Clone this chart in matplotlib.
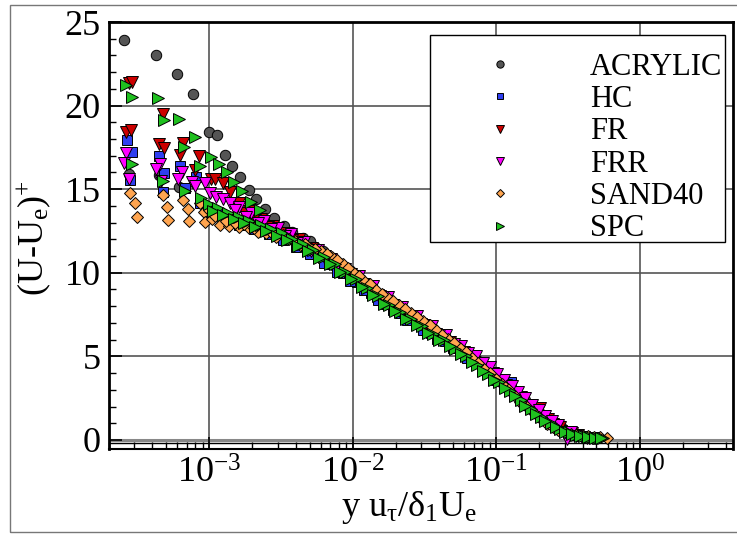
"""Velocity defect profiles (U-Ue)+ vs y u_tau/(delta1 Ue) for six surfaces."""
import numpy as np
import matplotlib
matplotlib.use('Agg')
import matplotlib.pyplot as plt
from matplotlib.ticker import LogLocator, MultipleLocator, FixedLocator, NullFormatter
from matplotlib.patches import Rectangle

plt.rcParams['font.family'] = ['Liberation Serif', 'DejaVu Serif']
plt.rcParams['mathtext.fontset'] = 'custom'
plt.rcParams['mathtext.rm'] = 'Liberation Serif'
plt.rcParams['mathtext.it'] = 'Liberation Serif:italic'

# --- data (near-wall scatter + collapsed outer part) ---
acrylic_x = [2.56e-4, 4.28e-4, 5.96e-4, 7.74e-4, 2.74e-4, 4.49e-4, 6.2e-4,
             1.0e-3, 1.14e-3, 1.29e-3, 1.45e-3, 1.64e-3, 1.89e-3, 2.13e-3, 2.45e-3,
             2.84e-3, 3.3e-3, 3.8e-3, 4.5e-3, 5.5e-3, 7.0e-3, 9.0e-3, 1.15e-2,
             1.5e-2, 2.0e-2, 2.7e-2, 3.6e-2, 4.8e-2, 6.5e-2, 8.5e-2, 0.11, 0.14,
             0.18, 0.23, 0.29, 0.36, 0.44,
             5.0e-3, 6.2e-3, 8.0e-3, 1.03e-2, 1.3e-2, 1.75e-2, 2.3e-2, 3.1e-2,
             4.2e-2, 5.6e-2, 7.5e-2, 9.8e-2, 0.125, 0.16, 0.2, 0.26, 0.32]
acrylic_y = [23.9, 23.05, 21.9, 20.7, 15.9, 15.85, 15.15,
             18.45, 18.25, 17.05, 16.4, 15.75, 14.95, 14.4, 13.8,
             13.3, 12.8, 12.45, 12.1, 11.55, 10.9, 10.2, 9.5,
             8.75, 8.0, 7.25, 6.55, 5.9, 5.1, 4.35, 3.55, 2.8,
             2.0, 1.25, 0.7, 0.35, 0.18,
             11.9, 11.3, 10.6, 9.85, 9.15, 8.4, 7.65, 6.95,
             6.2, 5.5, 4.75, 3.95, 3.15, 2.4, 1.65, 0.95, 0.5]

hc_x = [2.69e-4, 2.89e-4, 2.82e-4, 4.44e-4, 4.86e-4, 4.73e-4, 6.28e-4, 6.73e-4,
        8.07e-4, 8.66e-4, 1.05e-3, 1.2e-3, 1.45e-3, 1.8e-3, 2.3e-3, 2.9e-3,
        3.6e-3, 4.5e-3, 5.6e-3, 7.0e-3, 8.6e-3, 1.07e-2, 1.35e-2, 1.7e-2,
        2.15e-2, 2.75e-2, 3.5e-2, 4.4e-2, 5.6e-2, 7.1e-2, 9.0e-2, 0.112, 0.127,
        0.14, 0.175, 0.215, 0.26, 0.32, 0.39, 0.46,
        1.3e-3, 1.6e-3, 2.05e-3, 2.6e-3, 3.25e-3, 4.0e-3, 5.0e-3, 6.3e-3,
        7.8e-3, 9.6e-3, 1.2e-2, 1.5e-2, 1.9e-2, 2.4e-2, 3.1e-2, 3.9e-2,
        5.0e-2, 6.3e-2, 8.0e-2, 0.1, 0.155, 0.19, 0.235, 0.29, 0.35, 0.42]
hc_y = [17.94, 17.22, 15.55, 16.99, 15.95, 14.86, 16.39, 15.05,
        15.71, 14.17, 13.56, 13.5, 13.2, 13.0, 12.75, 12.4,
        12.0, 11.6, 11.1, 10.55, 10.0, 9.45, 8.8, 8.15,
        7.6, 7.0, 6.4, 5.9, 5.3, 4.7, 4.05, 3.5, 3.45,
        2.85, 2.1, 1.45, 0.95, 0.5, 0.25, 0.12,
        13.1, 12.85, 12.6, 12.3, 11.95, 11.55, 11.15, 10.6,
        10.05, 9.5, 8.95, 8.35, 7.75, 7.2, 6.6, 6.05,
        5.5, 4.9, 4.25, 3.6, 2.35, 1.7, 1.1, 0.6, 0.3, 0.15]

fr_x = [2.77e-4, 2.89e-4, 4.73e-4, 2.63e-4, 2.86e-4, 4.44e-4, 4.81e-4, 6.56e-4,
        6.28e-4, 8.5e-4, 7.98e-4, 1.03e-3, 1.09e-3, 1.24e-3, 1.4e-3, 1.6e-3,
        1.9e-3, 2.3e-3, 2.8e-3, 3.4e-3, 4.2e-3, 5.2e-3, 6.4e-3, 7.9e-3, 9.7e-3,
        1.2e-2, 1.5e-2, 1.9e-2, 2.4e-2, 3.0e-2, 3.8e-2, 4.8e-2, 6.0e-2, 7.6e-2,
        9.5e-2, 0.118, 0.15, 0.185, 0.203, 0.23, 0.28, 0.34, 0.41, 0.48,
        1.5e-3, 1.75e-3, 2.1e-3, 2.55e-3, 3.1e-3, 3.8e-3, 4.7e-3, 5.8e-3,
        7.1e-3, 8.8e-3, 1.08e-2, 1.35e-2, 1.7e-2, 2.15e-2, 2.7e-2, 3.4e-2,
        4.3e-2, 5.4e-2, 6.8e-2, 8.5e-2, 0.107, 0.133, 0.167, 0.25, 0.31, 0.37]
fr_y = [21.37, 21.4, 19.5, 18.45, 18.54, 17.7, 17.45, 17.74,
        17.05, 16.99, 16.15, 15.6, 15.59, 15.39, 14.86, 14.2,
        13.7, 13.2, 12.8, 12.4, 12.0, 11.5, 11.0, 10.45, 9.9,
        9.3, 8.7, 8.05, 7.5, 6.95, 6.35, 5.85, 5.25, 4.6,
        4.0, 3.3, 2.55, 1.9, 1.9, 1.25, 0.8, 0.4, 0.2, 0.12,
        13.9, 13.55, 13.15, 12.75, 12.35, 11.95, 11.5, 11.0,
        10.55, 10.0, 9.45, 8.85, 8.25, 7.65, 7.1, 6.5,
        5.95, 5.4, 4.8, 4.15, 3.5, 2.8, 2.1, 0.95, 0.5, 0.28]

frr_x = [2.63e-4, 2.55e-4, 2.77e-4, 4.55e-4, 4.25e-4, 4.6e-4, 6.5e-4, 6.05e-4,
         7.6e-4, 7.9e-4, 9.4e-4, 1.02e-3, 1.12e-3, 1.25e-3, 1.4e-3, 1.6e-3,
         1.95e-3, 2.4e-3, 3.0e-3, 3.7e-3, 4.6e-3, 5.7e-3, 7.1e-3, 8.8e-3,
         1.1e-2, 1.38e-2, 1.75e-2, 2.2e-2, 2.8e-2, 3.55e-2, 4.5e-2, 5.7e-2,
         7.2e-2, 9.1e-2, 0.113, 0.142, 0.178, 0.22, 0.27, 0.31, 0.33, 0.4, 0.47,
         1.5e-3, 1.8e-3, 2.2e-3, 2.7e-3, 3.35e-3, 4.1e-3, 5.1e-3, 6.4e-3,
         7.9e-3, 9.8e-3, 1.24e-2, 1.55e-2, 1.95e-2, 2.5e-2, 3.15e-2, 4.0e-2,
         5.1e-2, 6.4e-2, 8.1e-2, 0.102, 0.128, 0.16, 0.2, 0.245, 0.36, 0.43]
frr_y = [17.15, 16.59, 15.6, 16.51, 16.19, 15.5, 16.0, 15.6,
         15.45, 15.19, 15.35, 14.8, 14.55, 14.4, 14.2, 13.95,
         13.55, 13.1, 12.7, 12.3, 11.85, 11.35, 10.8, 10.25,
         9.8, 9.2, 8.55, 7.95, 7.4, 6.8, 6.25, 5.65,
         5.05, 4.35, 3.6, 2.85, 2.1, 1.45, 0.9, 0.05, 0.45, 0.2, 0.1,
         13.75, 13.35, 12.95, 12.6, 12.2, 11.8, 11.3, 10.85,
         10.3, 9.8, 9.2, 8.6, 8.0, 7.4, 6.85, 6.3,
         5.75, 5.2, 4.6, 3.95, 3.25, 2.5, 1.8, 1.15, 0.25, 0.12]

sand_x = [2.82e-4, 3.06e-4, 3.11e-4, 4.73e-4, 5.07e-4, 5.12e-4, 6.56e-4, 7.1e-4,
          7.25e-4, 8.56e-4, 9.18e-4, 9.38e-4, 1.0e-3, 1.05e-3, 1.19e-3, 1.38e-3,
          1.6e-3, 1.9e-3, 2.2e-3, 2.5e-3, 2.9e-3, 3.6e-3, 4.3e-3, 5.0e-3, 6.0e-3,
          7.2e-3, 8.5e-3, 1.0e-2, 1.2e-2, 1.45e-2, 1.75e-2, 2.1e-2, 2.55e-2,
          3.1e-2, 3.8e-2, 4.6e-2, 5.6e-2, 6.8e-2, 8.2e-2, 0.1, 0.12, 0.147,
          0.18, 0.225, 0.27, 0.33, 0.4, 0.48, 0.59,
          1.1e-3, 1.3e-3, 1.5e-3, 1.75e-3, 2.05e-3, 2.7e-3, 3.25e-3, 3.95e-3,
          4.65e-3, 5.5e-3, 6.6e-3, 7.8e-3, 9.2e-3, 1.1e-2, 1.32e-2, 1.6e-2,
          1.92e-2, 2.3e-2, 2.8e-2, 3.45e-2, 4.2e-2, 5.1e-2, 6.2e-2, 7.5e-2,
          9.0e-2, 0.11, 0.133, 0.163, 0.2, 0.25, 0.3, 0.36, 0.44, 0.53]
sand_y = [14.75, 14.2, 13.36, 14.65, 13.96, 13.16, 14.35, 13.8,
          13.1, 14.16, 13.66, 13.02, 13.75, 13.2, 12.86, 12.8,
          12.76, 12.7, 12.46, 12.36, 12.16, 12.05, 11.66, 11.48, 11.3,
          10.95, 10.5, 10.05, 9.5, 8.95, 8.5, 8.05, 7.6,
          7.1, 6.55, 6.05, 5.5, 4.9, 4.25, 3.65, 3.05, 2.3,
          1.7, 0.95, 0.6, 0.35, 0.25, 0.2, 0.1,
          13.4, 13.1, 12.95, 12.9, 12.65, 12.45, 12.25, 11.9,
          11.7, 11.45, 11.15, 10.75, 10.3, 9.8, 9.3, 8.75,
          8.3, 7.85, 7.35, 6.85, 6.3, 5.8, 5.25, 4.6,
          4.0, 3.35, 2.7, 2.0, 1.35, 0.8, 0.5, 0.3, 0.22, 0.15]

spc_x = [2.63e-4, 2.89e-4, 4.39e-4, 4.83e-4, 6.18e-4, 7.98e-4, 6.69e-4, 2.89e-4,
         4.73e-4, 6.81e-4, 8.66e-4, 8.7e-4, 1.03e-3, 1.16e-3, 1.33e-3, 1.48e-3,
         1.7e-3, 1.96e-3, 2.26e-3, 1.0e-3, 1.15e-3, 1.35e-3, 1.6e-3, 1.9e-3,
         2.3e-3, 2.7e-3, 3.2e-3, 3.8e-3, 4.5e-3, 5.3e-3, 6.3e-3, 7.5e-3, 8.9e-3,
         1.06e-2, 1.26e-2, 1.5e-2, 1.8e-2, 2.15e-2, 2.55e-2, 3.05e-2, 3.65e-2,
         4.35e-2, 5.2e-2, 6.2e-2, 7.4e-2, 8.8e-2, 0.105, 0.125, 0.148, 0.175,
         0.205, 0.24, 0.28, 0.32, 0.36, 0.41, 0.46, 0.51, 0.56,
         1.07e-3, 1.25e-3, 1.48e-3, 1.75e-3, 2.1e-3, 2.5e-3, 2.95e-3, 3.5e-3,
         4.15e-3, 4.9e-3, 5.8e-3, 6.9e-3, 8.2e-3, 9.7e-3, 1.16e-2, 1.38e-2,
         1.65e-2, 1.97e-2, 2.35e-2, 2.8e-2, 3.35e-2, 4.0e-2, 4.75e-2, 5.7e-2,
         6.8e-2, 8.1e-2, 9.6e-2, 0.115, 0.136, 0.16, 0.19, 0.22, 0.26, 0.3,
         0.34, 0.385, 0.435, 0.485, 0.535]
spc_y = [21.23, 20.5, 20.43, 19.14, 19.2, 18.1, 17.5, 16.5,
         15.49, 14.89, 16.41, 14.47, 16.9, 16.5, 16.0, 15.4,
         14.9, 14.25, 13.76, 14.1, 13.85, 13.6, 13.35, 13.1,
         12.85, 12.6, 12.35, 12.05, 11.7, 11.35, 10.95, 10.5, 10.05,
         9.6, 9.1, 8.6, 8.1, 7.65, 7.25, 6.8, 6.35,
         5.95, 5.45, 5.0, 4.5, 3.95, 3.45, 2.95, 2.4, 1.85,
         1.4, 1.0, 0.65, 0.45, 0.3, 0.22, 0.15, 0.12, 0.1,
         13.7, 13.45, 13.2, 12.95, 12.75, 12.5, 12.2, 11.95,
         11.6, 11.3, 10.9, 10.5, 10.05, 9.65, 9.15, 8.65,
         8.15, 7.7, 7.25, 6.85, 6.4, 6.0, 5.6, 5.15,
         4.65, 4.1, 3.6, 3.1, 2.6, 2.05, 1.55, 1.15, 0.75, 0.5,
         0.35, 0.25, 0.18, 0.14, 0.11]

labels = ['ACRYLIC', 'HC', 'FR', 'FRR', 'SAND40', 'SPC']
series = [(acrylic_x, acrylic_y), (hc_x, hc_y), (fr_x, fr_y),
          (frr_x, frr_y), (sand_x, sand_y), (spc_x, spc_y)]
markers = ['o', 's', 'v', 'v', 'D', '>']
msizes = [7.5, 6.5, 8.5, 8.5, 6.2, 8.5]
colors = ['#555555', '#2f3ff0', '#cc0000', '#ff00ff', '#ffa550', '#1fc01f']

fig = plt.figure(figsize=(7.37, 5.34), dpi=100)
ax = fig.add_axes([0.1479, 0.1592, 0.8467, 0.7996])

for (xs, ys), lab, m, ms, c in zip(series, labels, markers, msizes, colors):
    ax.plot(xs, ys, ls='none', marker=m, ms=ms, mfc=c, mec='black', mew=0.7,
            label=lab, zorder=3)

ax.set_xscale('log')
ax.set_xlim(2.0e-4, 4.48)
ax.set_ylim(-0.54, 25)

# grid + extra baseline lines (Tecplot-like)
for xv in [1e-3, 1e-2, 1e-1, 1e0]:
    ax.axvline(xv, color='#555555', lw=1.2, zorder=1)
for yv in [5, 10, 15, 20]:
    ax.axhline(yv, color='#555555', lw=1.2, zorder=1)
ax.axhline(0, color='#888888', lw=2.2, zorder=1)
ax.axhline(-0.18, color='black', lw=1.0, zorder=1)

ax.yaxis.set_major_locator(FixedLocator([0, 5, 10, 15, 20, 25]))
ax.yaxis.set_minor_locator(MultipleLocator(1))
ax.xaxis.set_minor_locator(LogLocator(base=10, subs=np.arange(2, 10), numticks=20))
ax.xaxis.set_minor_formatter(NullFormatter())
ax.set_xticks([1e-3, 1e-2, 1e-1, 1e0])
ax.set_xticklabels(['10$^{\\mathregular{-3}}$', '10$^{\\mathregular{-2}}$',
                    '10$^{\\mathregular{-1}}$', '10$^{\\mathregular{0}}$'])

ax.tick_params(axis='both', which='both', direction='in', top=False, right=False,
               labelsize=26, colors='black')
ax.tick_params(axis='both', which='major', length=9, width=1.2, pad=6)
ax.tick_params(axis='both', which='minor', length=5, width=1.0)

for side in ['left', 'top', 'right']:
    ax.spines[side].set_linewidth(2.0)
ax.spines['bottom'].set_linewidth(1.5)

ax.set_xlabel('y u$_\\mathregular{τ}$/δ$_\\mathregular{1}$U$_\\mathregular{e}$',
              fontsize=26, labelpad=-1)
ax.xaxis.label.set_x(0.481)
ax.set_ylabel('(U-U$_\\mathregular{e}$)$^\\mathregular{+}$', fontsize=26, labelpad=8)
ax.yaxis.label.set_y(0.495)

# legend box drawn separately so the entries can sit a little low, as in the original
W, H = 737.0, 534.0
ax.add_patch(Rectangle((430 / W, 1 - 242 / H), 295 / W, 207 / H,
                       transform=fig.transFigure, facecolor='white',
                       edgecolor='black', lw=1.0, zorder=4, clip_on=False))
leg = ax.legend(loc='upper right', bbox_to_anchor=(730 / W, 1 - 45 / H),
                bbox_transform=fig.transFigure, borderaxespad=0,
                fontsize=22, frameon=False, markerscale=0.7, handlelength=4.2,
                handletextpad=0.85, borderpad=0.25, labelspacing=0.11)
leg.set_zorder(5)

fig.patches.append(Rectangle((0.0136, 0.0037), 1.2, 0.9869, transform=fig.transFigure,
                             fill=False, edgecolor='#777777', lw=1.0))

fig.savefig('out.png', dpi=100)
